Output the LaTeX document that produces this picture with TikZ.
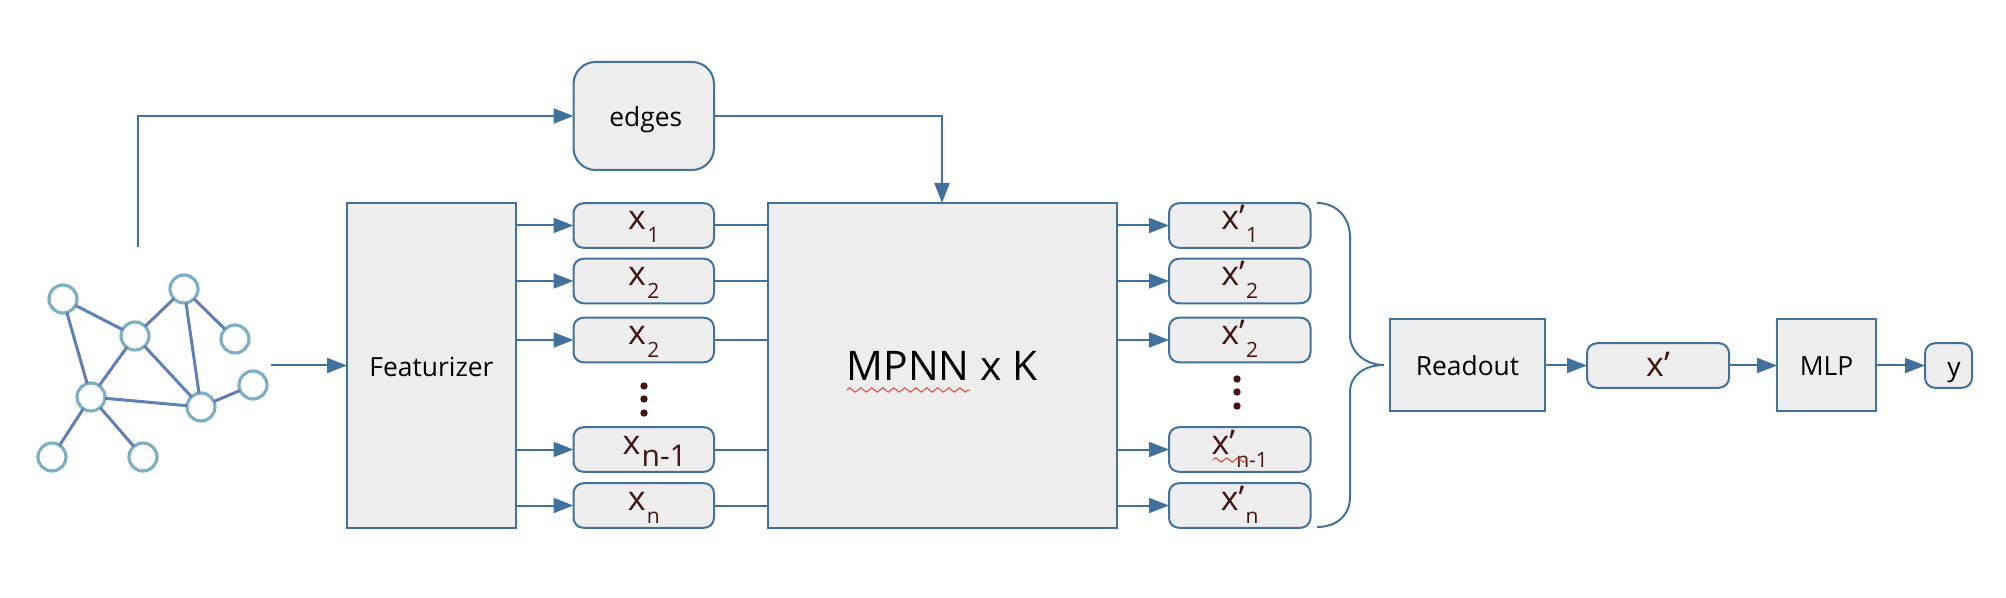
\documentclass[tikz,border=0pt]{standalone}
\usepackage{fontspec}
\setmainfont{Open Sans}
\usetikzlibrary{arrows.meta,decorations.pathmorphing}
\definecolor{strk}{HTML}{41719C}
\definecolor{boxfill}{HTML}{EEEEEE}
\definecolor{maroon}{HTML}{431414}
\definecolor{ringc}{HTML}{7FAFC3}
\definecolor{linkc}{HTML}{5F7FB5}
\definecolor{squig}{HTML}{E0483A}
\newcommand{\xvar}[2]{{\fontsize{17}{17}\selectfont #1}\raisebox{-6.5pt}{\fontsize{10.5}{10.5}\selectfont\kern0.6pt #2}}
\newcommand{\xvarb}[2]{{\fontsize{17}{17}\selectfont #1}\raisebox{-6pt}{\fontsize{15}{15}\selectfont\kern0.6pt #2}}
\tikzset{
  base/.style={draw=strk,fill=boxfill,line width=1pt,inner sep=0pt,outer sep=0pt,align=center},
  sqbox/.style={base,font=\fontsize{13.2}{13.2}\selectfont,text height=11pt,text depth=0pt},
  tall/.style={sqbox,minimum width=#1},
  roundb/.style={base,rounded corners=5pt,minimum height=22.3pt,text=maroon,text height=5.25pt,text depth=0.75pt},
  xin/.style={roundb,minimum width=70.25pt},
  xout/.style={roundb,minimum width=70.75pt},
  ring/.style={circle,draw=ringc,fill=white,line width=1.6pt,minimum size=14pt,inner sep=0pt,outer sep=0pt},
  link/.style={draw=linkc,line width=1.5pt},
  wire/.style={draw=strk,line width=1pt},
  arr/.style={wire,-{Triangle[length=10pt,width=7.5pt]}},
  dotm/.style={circle,fill=maroon,minimum size=3.7pt,inner sep=0pt},
  wavy/.style={draw=squig,line width=0.5pt,decorate,decoration={zigzag,segment length=5.5pt,amplitude=1.1pt}}
}
\begin{document}
\begin{tikzpicture}[x=0.5pt,y=-0.5pt]
\useasboundingbox (0,0) rectangle (2006,598);
% graph
\node[ring] (n1) at (63,299) {};
\node[ring] (n2) at (184,289) {};
\node[ring] (n3) at (135,336) {};
\node[ring] (n4) at (235,339) {};
\node[ring] (n5) at (253,385) {};
\node[ring] (n6) at (91,397) {};
\node[ring] (n7) at (201,407) {};
\node[ring] (n8) at (52,457) {};
\node[ring] (n9) at (143,457) {};
\foreach \a/\b in {n1/n3,n1/n6,n3/n2,n3/n6,n3/n7,n2/n4,n2/n7,n6/n7,n7/n5,n6/n8,n6/n9}
  \draw[link] (\a) -- (\b);
% boxes
\node[base,rounded corners=11pt,minimum width=70.25pt,minimum height=54pt,font=\fontsize{13.2}{13.2}\selectfont,text height=11pt,text depth=0pt] (edges) at (643.75,116) {\hspace*{2pt}edges};
\node[tall=84.5pt,minimum height=162.5pt] (feat) at (431.5,365.5) {Featurizer};
\node[sqbox,minimum width=174.5pt,minimum height=162.5pt,font=\fontsize{20.4}{21}\selectfont,text height=14.5pt] (mpnn) at (942,365.5) {MPNN x K};
\node[xin] (x1) at (643.75,225.5) {\xvar{x}{1}};
\node[xin] (x2) at (643.75,281) {\xvar{x}{2}};
\node[xin] (x3) at (643.75,340) {\xvar{x}{2}};
\node[xin] (x4) at (643.75,449.5) {\hspace*{11pt}\xvarb{x}{n-1}};
\node[xin] (x5) at (643.75,505.5) {\xvar{x}{n}};
\node[xout] (o1) at (1239.75,225.5) {\xvar{x’}{1}};
\node[xout] (o2) at (1239.75,281) {\xvar{x’}{2}};
\node[xout] (o3) at (1239.75,340) {\xvar{x’}{2}};
\node[xout] (o4) at (1239.75,449.5) {\xvar{x’}{n-1}};
\node[xout] (o5) at (1239.75,505.5) {\xvar{x’}{n}};
\node[tall=77.5pt,minimum height=46pt] (read) at (1467.5,365) {Readout};
\node[roundb,minimum width=71pt,font=\fontsize{17}{17}\selectfont,text height=11pt,text depth=0pt] (xf) at (1658,365.5) {x’};
\node[tall=49.5pt,minimum height=46pt] (mlp) at (1826.5,365) {MLP};
\node[base,rounded corners=5pt,minimum width=23.5pt,minimum height=22.3pt,font=\fontsize{13.2}{13.2}\selectfont,text height=11pt,text depth=0pt] (y) at (1948.5,365.5) {\hspace*{5.5pt}y};
% dots
\foreach \yy/\nm in {386/a,399/b,413/c} \node[dotm] (dl\nm) at (644,\yy) {};
\foreach \yy/\nm in {379/a,392/b,406/c} \node[dotm] (dr\nm) at (1237,\yy) {};
% connectors
\coordinate (g0) at (138,247);
\coordinate (g1) at (271,365.5);
\draw[arr] (g0) |- (edges.west);
\draw[arr] (edges.east) -| (mpnn.north);
\draw[arr] (g1) -- (feat.west);
\foreach \i in {1,...,5} {
  \draw[arr] (feat.east |- x\i.west) -- (x\i.west);
  \draw[wire] (x\i.east) -- (mpnn.west |- x\i.east);
  \draw[arr] (mpnn.east |- o\i.west) -- (o\i.west);
}
\draw[arr] (read.east |- xf.west) -- (xf.west);
\draw[arr] (xf.east) -- (mlp.west |- xf.east);
\draw[arr] (mlp.east |- y.west) -- (y.west);
% brace
\draw[wire] (1317,203) .. controls (1337,203) and (1350,218) .. (1350,237) -- (1350,335)
  .. controls (1350,352) and (1365,365) .. (1384,365)
  .. controls (1365,365) and (1350,375) .. (1350,392) -- (1350,497)
  .. controls (1350,515) and (1337,527) .. (1317,527);
% spell-check squiggles
\coordinate (s1) at (847,390); \coordinate (s2) at (970,390);
\coordinate (s3) at (1213,460); \coordinate (s4) at (1247,460);
\draw[wavy] (s1) -- (s2);
\draw[wavy] (s3) -- (s4);
\end{tikzpicture}
\end{document}
